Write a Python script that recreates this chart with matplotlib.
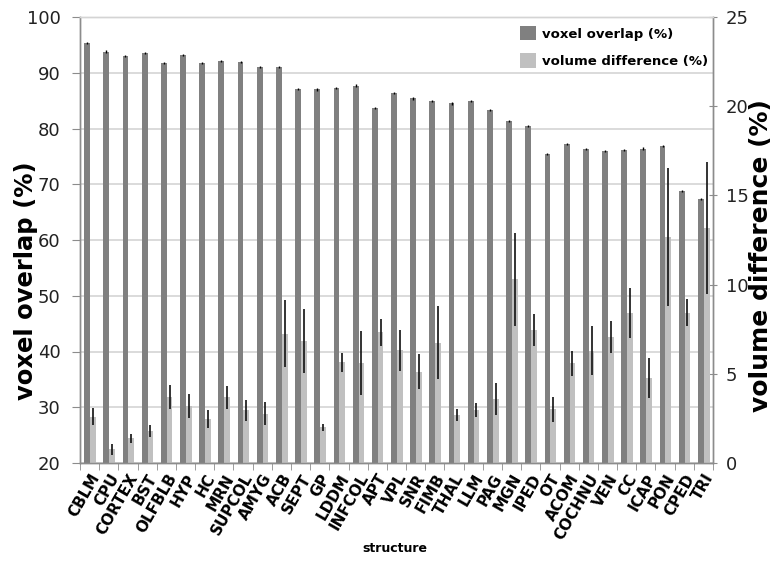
import matplotlib
matplotlib.use("Agg")
import matplotlib.pyplot as plt
from matplotlib.patches import Patch
import numpy as np

structures = ["CBLM", "CPU", "CORTEX", "BST", "OLFBLB", "HYP", "HC", "MRN", "SUPCOL", "AMYG",
              "ACB", "SEPT", "GP", "LDDM", "INFCOL", "APT", "VPL", "SNR", "FIMB", "THAL",
              "LLM", "PAG", "MGN", "IPED", "OT", "ACOM", "COCHNU", "VEN", "CC", "ICAP",
              "PON", "CPED", "TRI"]
voxel_overlap = [95.4, 93.8, 93.0, 93.5, 91.7, 93.2, 91.8, 92.1, 91.9, 91.1,
                 91.0, 87.1, 87.0, 87.3, 87.7, 83.7, 86.4, 85.4, 84.9, 84.5,
                 85.0, 83.3, 81.4, 80.5, 75.4, 77.2, 76.3, 76.0, 76.1, 76.4,
                 76.9, 68.8, 67.3]
voxel_overlap_err = [0.2] * 33
volume_diff = [2.6, 0.77, 1.38, 1.79, 3.68, 3.21, 2.47, 3.68, 2.95, 2.77,
               7.25, 6.84, 2.0, 5.64, 5.59, 7.33, 6.31, 5.12, 6.74, 2.69,
               2.97, 3.6, 10.3, 7.45, 3.0, 5.59, 6.3, 7.08, 8.43, 4.75,
               12.65, 8.43, 13.19]
volume_diff_err = [0.47, 0.3, 0.26, 0.34, 0.68, 0.67, 0.5, 0.65, 0.6, 0.64,
                   1.86, 1.8, 0.2, 0.53, 1.8, 0.76, 1.13, 0.99, 2.05, 0.31,
                   0.37, 0.9, 2.6, 0.9, 0.72, 0.71, 1.36, 0.9, 1.4, 1.12,
                   3.86, 0.75, 3.7]

dark = "#808080"
light = "#c0c0c0"
grid_c = "#d4d4d4"
spine_c = "#8c8c8c"

fig = plt.figure(figsize=(7.75, 5.72), dpi=100)
ax = fig.add_axes([80/775, 1-463/572, (713-80)/775, (463-17)/572])
ax2 = ax.twinx()

x = np.arange(len(structures))
w = 0.3
ax.bar(x - 0.13, voxel_overlap, width=w, color=dark, zorder=2,
       yerr=voxel_overlap_err, error_kw=dict(ecolor="black", elinewidth=1, capsize=0))
ax.set_ylim(20, 100)
ax.set_xlim(-0.5, len(structures) - 0.5)
ax.set_yticks(np.arange(20, 101, 10))
ax.yaxis.grid(True, color=grid_c, lw=1.2, zorder=0)
ax.set_axisbelow(True)

ax2.bar(x + 0.17, volume_diff, width=w, color=light, zorder=2,
        yerr=volume_diff_err, error_kw=dict(ecolor="#111111", elinewidth=1.2, capsize=0))
ax2.set_ylim(0, 25)
ax2.set_yticks(np.arange(0, 26, 5))
ax2.set_xlim(-0.5, len(structures) - 0.5)

for a in (ax, ax2):
    for s in a.spines.values():
        s.set_color(spine_c)
        s.set_linewidth(1)
ax.spines["top"].set_color(grid_c)
ax2.spines["top"].set_color(grid_c)

ax.tick_params(axis="y", labelsize=13, length=6, color=spine_c, labelcolor="#222222", pad=8)
ax2.tick_params(axis="y", labelsize=13, length=6, color=spine_c, direction="inout",
                labelcolor="#222222", pad=6)

ax.set_xticks(x)
ax.set_xticklabels(structures, rotation=60, ha="right", rotation_mode="anchor",
                   fontsize=11, fontweight="bold")
ax.tick_params(axis="x", which="major", length=0, pad=6)
ax.set_xticks(np.arange(-0.5, len(structures), 1), minor=True)
ax.tick_params(axis="x", which="minor", length=5, color=spine_c)
ax2.tick_params(axis="x", which="both", length=0, labelbottom=False)

ax.set_ylabel("voxel overlap (%)", fontsize=17.5, fontweight="bold")
ax.yaxis.set_label_coords((38 - 80) / 633, 0.408)
ax2.set_ylabel("volume difference (%)", fontsize=18, fontweight="bold", rotation=90)
ax2.yaxis.set_label_coords((749 - 80) / 633, 0.464)
fig.text(0.51, 1-548/572, "structure", ha="center", va="center", fontsize=9, fontweight="bold")

handles = [Patch(facecolor=dark, edgecolor="none", label="voxel overlap (%)"),
           Patch(facecolor=light, edgecolor="none", label="volume difference (%)")]
leg = ax2.legend(handles=handles, loc="upper right", frameon=False,
                 bbox_to_anchor=(708/775, 1-26/572), bbox_transform=fig.transFigure,
                 prop=dict(size=9.5, weight="bold"), handlelength=1.2, handleheight=1.3,
                 handletextpad=0.45, labelspacing=0.95, borderpad=0, borderaxespad=0)

fig.savefig("out.png", dpi=100)
